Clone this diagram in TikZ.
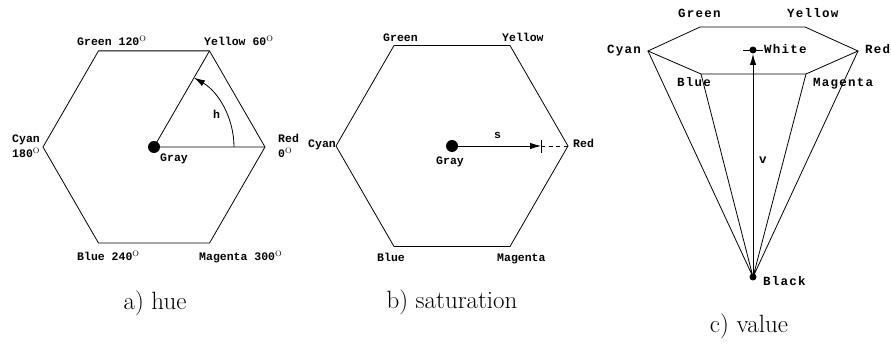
\documentclass[tikz,border=0pt]{standalone}
\usepackage{fontspec}
\newfontfamily\labfont{Liberation Mono}
\newfontfamily\labfontc{Liberation Mono}[LetterSpace=10]
\usetikzlibrary{arrows.meta}
\tikzset{
  lab/.style={font=\labfont\bfseries\fontsize{11.5}{12}\selectfont, inner sep=0pt, anchor=base west},
  labc/.style={font=\labfontc\bfseries\fontsize{12.5}{13}\selectfont, inner sep=0pt, anchor=base west},
  capt/.style={font=\fontsize{25}{30}\selectfont, inner sep=0pt, anchor=base},
  edge/.style={line width=0.8pt, line join=miter},
  arr/.style={-{Latex[length=11pt,width=6.5pt]}, line width=0.8pt},
  dot/.style={circle, fill, inner sep=0pt, minimum size=#1}
}
\newcommand{\dg}{\textsuperscript{\normalfont\fontsize{8}{8}\selectfont O}}
\begin{document}
\begin{tikzpicture}[x=1pt,y=-1pt]
\useasboundingbox (0,0) rectangle (891,344);
% ---------- a) hue
\coordinate (aR) at (265,147);
\coordinate (aY) at (209.5,50.9);
\coordinate (aG) at (98.5,50.9);
\coordinate (aC) at (43,147);
\coordinate (aB) at (98.5,243.1);
\coordinate (aM) at (209.5,243.1);
\coordinate (aarc) at (234,147);
\draw[edge] (aR) -- (aY) -- (aG) -- (aC) -- (aB) -- (aM) -- cycle;
\node[dot=12pt] (agray) at (154,147) {};
\draw[edge] (aY) -- (agray.center) -- (aR);
\draw[arr] (aarc) arc[start angle=0, end angle=60, radius=80pt];
\node[lab] (lah) at (213,119) {h};
\node[lab] (laGreen) at (77,46) {Green 120\dg};
\node[lab] (laYellow) at (204,46) {Yellow 60\dg};
\node[lab] (laRed) at (278,143) {Red};
\node[lab] (la0) at (278,158) {0\dg};
\node[lab] (laCyan) at (12,143) {Cyan};
\node[lab] (la180) at (12,158) {180\dg};
\node[lab] (laGray) at (160,162) {Gray};
\node[lab] (laBlue) at (77,261) {Blue 240\dg};
\node[lab] (laMag) at (199,261) {Magenta 300\dg};
\node[capt] (capa) at (155,310) {a) hue};
% ---------- b) saturation
\coordinate (bR) at (568,146);
\coordinate (bY) at (510,45.5);
\coordinate (bG) at (394,45.5);
\coordinate (bC) at (336,146);
\coordinate (bB) at (394,246.5);
\coordinate (bM) at (510,246.5);
\coordinate (btick) at (541,146);
\coordinate (btickT) at (541,140);
\coordinate (btickB) at (541,153);
\draw[edge] (bR) -- (bY) -- (bG) -- (bC) -- (bB) -- (bM) -- cycle;
\node[dot=12pt] (bgray) at (452,146) {};
\draw[arr] (bgray.center) -- (btick);
\draw[line width=0.8pt] (btickT) -- (btickB);
\draw[line width=0.8pt, dash pattern=on 4pt off 3.5pt] (btick) -- (bR);
\node[lab] (lbs) at (494,139) {s};
\node[lab] (lbGreen) at (383,42) {Green};
\node[lab] (lbYellow) at (502,42) {Yellow};
\node[lab] (lbCyan) at (308,148) {Cyan};
\node[lab] (lbRed) at (573,148) {Red};
\node[lab] (lbGray) at (436,165) {Gray};
\node[lab] (lbBlue) at (377,262) {Blue};
\node[lab] (lbMag) at (497,262) {Magenta};
\node[capt] (capb) at (452,309) {b) saturation};
% ---------- c) value
\coordinate (cG) at (700,27);
\coordinate (cY) at (805,27);
\coordinate (cR) at (858,51);
\coordinate (cM) at (806,74);
\coordinate (cB) at (701,74);
\coordinate (cC) at (648,51);
\coordinate (cWl) at (743,50);
\coordinate (cWr) at (763,50);
\coordinate (cWtip) at (753,54);
\draw[edge] (cG) -- (cY) -- (cR) -- (cM) -- (cB) -- (cC) -- cycle;
\node[dot=7pt] (cwhite) at (753,50) {};
\node[dot=7pt] (cblack) at (753,277) {};
\draw[line width=0.8pt] (cWl) -- (cWr);
\draw[edge] (cC) -- (cblack.center) -- (cB);
\draw[edge] (cM) -- (cblack.center) -- (cR);
\draw[arr] (cblack.center) -- (cWtip);
\node[labc] (lcGreen) at (678,18) {Green};
\node[labc] (lcYellow) at (787,18) {Yellow};
\node[labc] (lcCyan) at (607,54) {Cyan};
\node[labc] (lcRed) at (865,54) {Red};
\node[labc] (lcWhite) at (764,54) {White};
\node[labc] (lcBlue) at (677,87) {Blue};
\node[labc] (lcMag) at (813,87) {Magenta};
\node[labc] (lcv) at (759,164) {v};
\node[labc] (lcBlack) at (763,286) {Black};
\node[capt] (capc) at (749,333) {c) value};
\end{tikzpicture}
\end{document}
